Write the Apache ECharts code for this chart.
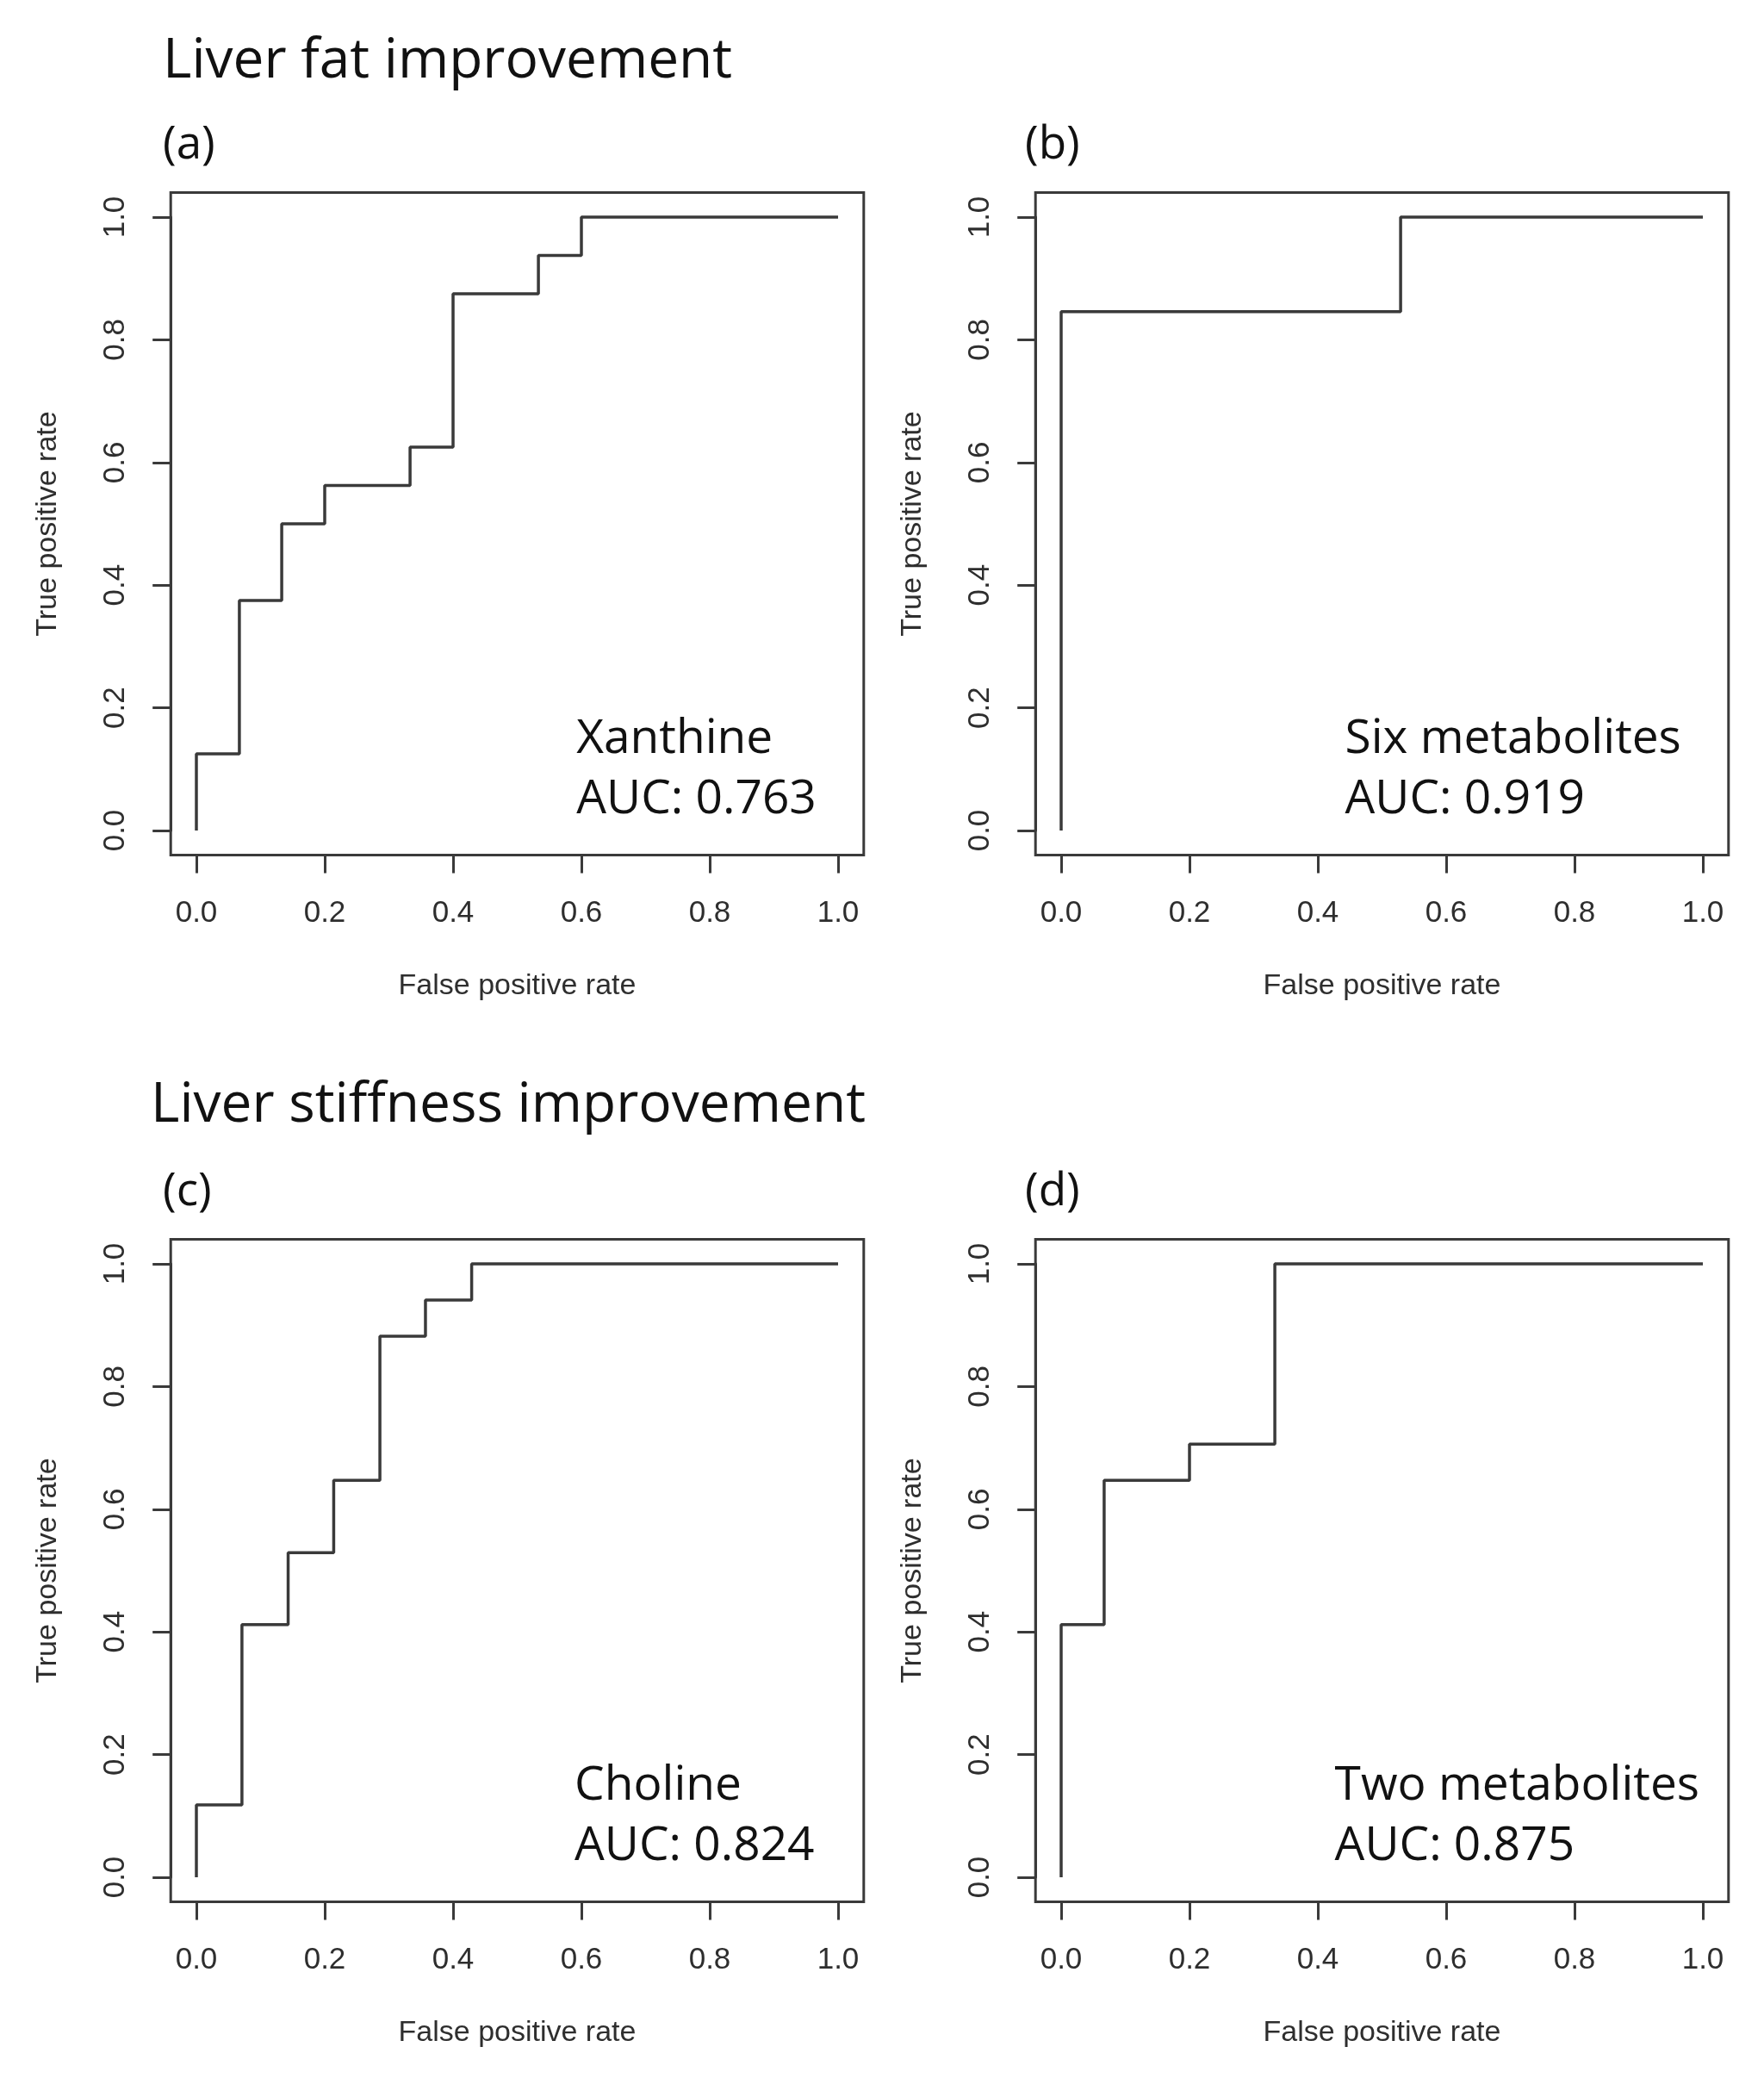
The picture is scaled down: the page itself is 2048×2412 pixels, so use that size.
<!DOCTYPE html>
<html>
<head>
<meta charset="utf-8">
<script src="https://cdn.jsdelivr.net/npm/echarts@6.0.0/dist/echarts.min.js"></script>
<style>
html,body{margin:0;padding:0;background:#ffffff;}
#chart{width:2048px;height:2412px;}
</style>
</head>
<body>
<div id="chart"></div>
<script>
// ---------------- data ----------------
const sectionTitles = ['Liver fat improvement', 'Liver stiffness improvement'];
const panelLabels = ['(a)', '(b)', '(c)', '(d)'];
const markerNames = ['Xanthine', 'Six metabolites', 'Choline', 'Two metabolites'];
const aucLabels = ['AUC: 0.763', 'AUC: 0.919', 'AUC: 0.824', 'AUC: 0.875'];
const annotationX = [0.593, 0.443, 0.59, 0.427];

// ROC vertices (false positive rate, true positive rate); drawn as step curves
const fprA = [0, 0, 0.067, 0.133, 0.2, 0.333, 0.4, 0.533, 0.6, 1.0];
const tprA = [0, 0.125, 0.375, 0.5, 0.5625, 0.625, 0.875, 0.9375, 1.0, 1.0];

const fprB = [0, 0, 0.529, 1.0];
const tprB = [0, 0.846, 1.0, 1.0];

const fprC = [0, 0, 0.071, 0.143, 0.214, 0.286, 0.357, 0.429, 1.0];
const tprC = [0, 0.118, 0.412, 0.529, 0.647, 0.882, 0.941, 1.0, 1.0];

const fprD = [0, 0, 0.067, 0.2, 0.333, 1.0];
const tprD = [0, 0.412, 0.647, 0.706, 1.0, 1.0];

const tickLabels = ['0.0', '0.2', '0.4', '0.6', '0.8', '1.0'];
const xAxisTitle = 'False positive rate';
const yAxisTitle = 'True positive rate';

// ---------------- layout ----------------
const DATA_W = 745, DATA_H = 712, EXT = 0.04;
const panelPos = [
  {l: 228, t: 252}, {l: 1232, t: 252},
  {l: 228, t: 1467}, {l: 1232, t: 1467}
];
const rocF = [fprA, fprB, fprC, fprD];
const rocT = [tprA, tprB, tprC, tprD];

const INK = '#3a3a3a';
const AXIS_TXT = '#2e2e2e';
const TEXT_DARK = '#111111';
const axisFont = 'Liberation Sans, Arial, sans-serif';
const bigFont = 'Open Sans, Noto Sans, sans-serif';

const grids = [], xAxes = [], yAxes = [], series = [];
panelPos.forEach((p, i) => {
  const ex = EXT * DATA_W, ey = EXT * DATA_H;
  // frame box (R box())
  grids.push({left: p.l - ex, top: p.t - ey, width: DATA_W + 2 * ex, height: DATA_H + 2 * ey,
    show: true, borderColor: INK, borderWidth: 3, backgroundColor: 'transparent'});
  xAxes.push({type: 'value', gridIndex: 2 * i, show: false, min: 0, max: 1});
  yAxes.push({type: 'value', gridIndex: 2 * i, show: false, min: 0, max: 1});
  // data grid
  grids.push({left: p.l, top: p.t, width: DATA_W, height: DATA_H});
  const common = {
    type: 'value', min: 0, max: 1, interval: 0.2,
    axisLine: {show: true, onZero: false, lineStyle: {color: INK, width: 3}},
    axisTick: {show: true, length: 21, lineStyle: {color: INK, width: 3}},
    splitLine: {show: false},
    nameLocation: 'middle',
    nameTextStyle: {fontSize: 34, fontFamily: axisFont, color: AXIS_TXT}
  };
  xAxes.push(Object.assign({}, common, {
    gridIndex: 2 * i + 1, position: 'bottom', offset: ey,
    name: xAxisTitle, nameGap: 135,
    axisLabel: {margin: 50, fontSize: 35, fontFamily: axisFont, color: AXIS_TXT,
      formatter: v => tickLabels[Math.round(v / 0.2)]}
  }));
  yAxes.push(Object.assign({}, common, {
    gridIndex: 2 * i + 1, position: 'left', offset: ex,
    name: yAxisTitle, nameGap: 126,
    axisLabel: {margin: 46, rotate: 90, fontSize: 35, fontFamily: axisFont, color: AXIS_TXT,
      formatter: v => tickLabels[Math.round(v / 0.2)]}
  }));
  series.push({
    type: 'line', xAxisIndex: 2 * i + 1, yAxisIndex: 2 * i + 1,
    step: 'end', symbol: 'none', silent: true, clip: false,
    lineStyle: {color: INK, width: 3.5},
    data: rocF[i].map((x, k) => [x, rocT[i][k]])
  });
  series.push({
    type: 'scatter', xAxisIndex: 2 * i + 1, yAxisIndex: 2 * i + 1,
    symbolSize: 1, itemStyle: {color: '#ffffff', opacity: 1}, silent: true,
    emphasis: {disabled: true},
    data: [[annotationX[i], 0]],
    label: {show: true, position: [0, 0], align: 'left', verticalAlign: 'bottom',
      opacity: 1, textBorderWidth: 0,
      fontSize: 55, lineHeight: 70, fontFamily: bigFont, color: TEXT_DARK,
      formatter: () => markerNames[i] + '\n' + aucLabels[i]}
  });
});

const labelPos = [{x: 189, y: 169}, {x: 1190, y: 169}, {x: 189, y: 1384}, {x: 1190, y: 1384}];
const graphic = [
  {type: 'text', x: 189, y: 72, style: {text: sectionTitles[0], font: '64px ' + bigFont, fill: TEXT_DARK, align: 'left', verticalAlign: 'middle'}},
  {type: 'text', x: 175, y: 1284, style: {text: sectionTitles[1], font: '64px ' + bigFont, fill: TEXT_DARK, align: 'left', verticalAlign: 'middle'}}
];
panelLabels.forEach((t, i) => {
  graphic.push({type: 'text', x: labelPos[i].x, y: labelPos[i].y,
    style: {text: t, font: '53px ' + bigFont, fill: TEXT_DARK, align: 'left', verticalAlign: 'middle'}});
});

const chart = echarts.init(document.getElementById('chart'));
chart.setOption({
  animation: false,
  backgroundColor: '#ffffff',
  grid: grids, xAxis: xAxes, yAxis: yAxes, series: series, graphic: graphic
});
</script>
</body>
</html>
